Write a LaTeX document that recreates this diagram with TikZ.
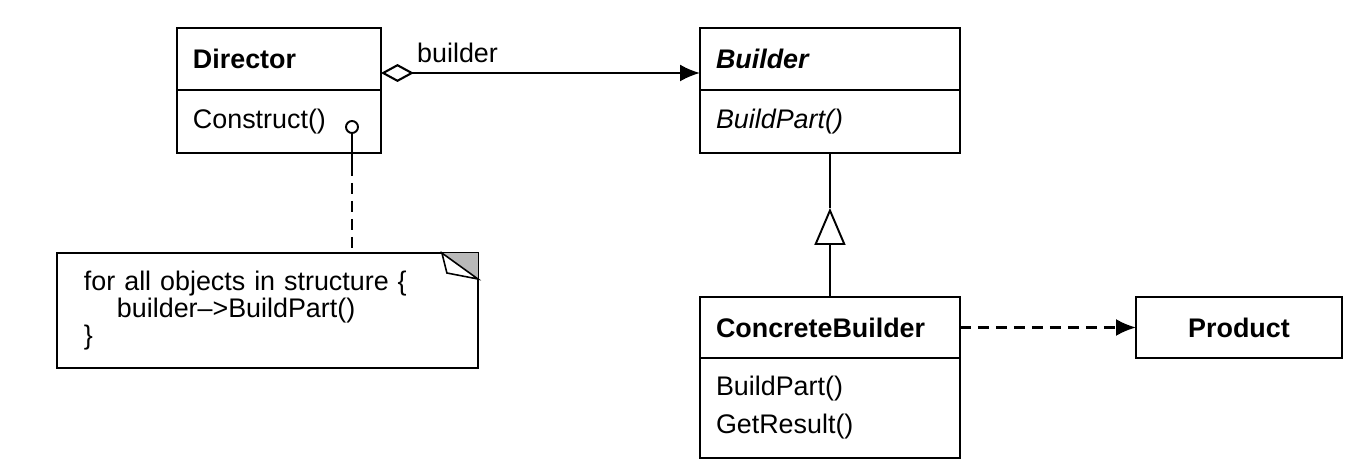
\documentclass[tikz,border=0pt]{standalone}
\usepackage{fontspec}
\setmainfont{Liberation Sans}
\usetikzlibrary{positioning,calc,arrows.meta}

\tikzset{
	classtitle/.style={draw, line width=1.1pt, outer sep=0pt, anchor=north west, align=left, inner xsep=0.32cm,
		font=\bfseries\fontsize{15.3}{18}\selectfont},
	classops/.style={draw, line width=1.1pt, outer sep=0pt, align=left, inner xsep=0.32cm,
		font=\fontsize{15.3}{21.6}\selectfont},
	notebox/.style={draw, line width=1.1pt, outer sep=0pt, anchor=north west, align=left, inner xsep=0.54cm,
		font=\fontsize{15.3}{15.3}\selectfont},
	dashline/.style={line width=1.4pt, dash pattern=on 0.22cm off 0.14cm},
}

\begin{document}
\begin{tikzpicture}[x=0.02cm, y=-0.02cm]
		\useasboundingbox (0,0) rectangle (1357,473);
		\node[classtitle, text width=3.44cm, minimum height=1.24cm] (Director) at (177,28) {Director} ;
		\node[classops, text width=3.44cm, minimum height=1.26cm, below=0pt of Director] (DirectorOps) {Construct()} ;
		\node[classtitle, text width=4.56cm, minimum height=1.24cm, font=\bfseries\itshape\fontsize{15.3}{18}\selectfont] (Builder) at (700,28) {Builder} ;
		\node[classops, text width=4.56cm, minimum height=1.26cm, below=0pt of Builder, font=\itshape\fontsize{15.3}{21.6}\selectfont] (BuilderOps) {BuildPart()} ;
		\node[classtitle, text width=4.56cm, minimum height=1.22cm] (Concrete) at (700,297) {ConcreteBuilder} ;
		\node[classops, text width=4.56cm, minimum height=2cm, below=0pt of Concrete] (ConcreteOps) {BuildPart()\\GetResult()} ;
		\node[classtitle, text width=3.48cm, minimum height=1.22cm, align=center] (Product) at (1136,297) {Product} ;
		\node[notebox, text width=7.34cm, minimum height=2.3cm] (Note) at (57,253)
			{for all objects in structure \{\\\hspace*{0.66cm}builder-->BuildPart()\\\}} ;
		% folded corner of the note
		\fill[gray!55] ($(Note.north east)+(-36,0)$) -- (Note.north east) -- ($(Note.north east)+(0,26)$) -- cycle ;
		\draw[fill=white, line width=0.9pt] ($(Note.north east)+(-36,0)$) -- ($(Note.north east)+(-31,20)$) -- ($(Note.north east)+(0,26)$) -- cycle ;
		% note hook
		\node[draw, circle, inner sep=0pt, minimum size=0.24cm, line width=1.1pt] (Hook) at (352,127) {} ;
		\draw[line width=1.2pt] (Hook) -- ($(Hook |- DirectorOps.south)+(0,12)$) ;
		\draw[dashline] ($(Hook |- DirectorOps.south)+(0,12)$) -- (Hook |- Note.north) ;
		% aggregation
		\coordinate (AggStart) at ($(Director.north east)+(0,45)$) ;
		\draw[line width=1.2pt, {Diamond[open,length=0.66cm,width=0.36cm]}-{Latex[length=0.4cm,width=0.34cm]}]
			(AggStart) -- node[pos=0.24, above=2pt, font=\fontsize{15.3}{18}\selectfont] (BuilderLabel) {builder} (AggStart -| Builder.west) ;
		% inheritance
		\coordinate (Tip) at ($(BuilderOps.south)+(0,55)$) ;
		\draw[line width=1.1pt] (BuilderOps.south) -- (Tip) ;
		\draw[line width=1.1pt, -{Triangle[open,length=0.74cm,width=0.62cm]}] (Concrete.north) -- (Tip) ;
		% dependency
		\draw[dashline, -{Latex[length=0.4cm,width=0.34cm]}] (Concrete.east) -- (Product.west) ;
\end{tikzpicture}
\end{document}
